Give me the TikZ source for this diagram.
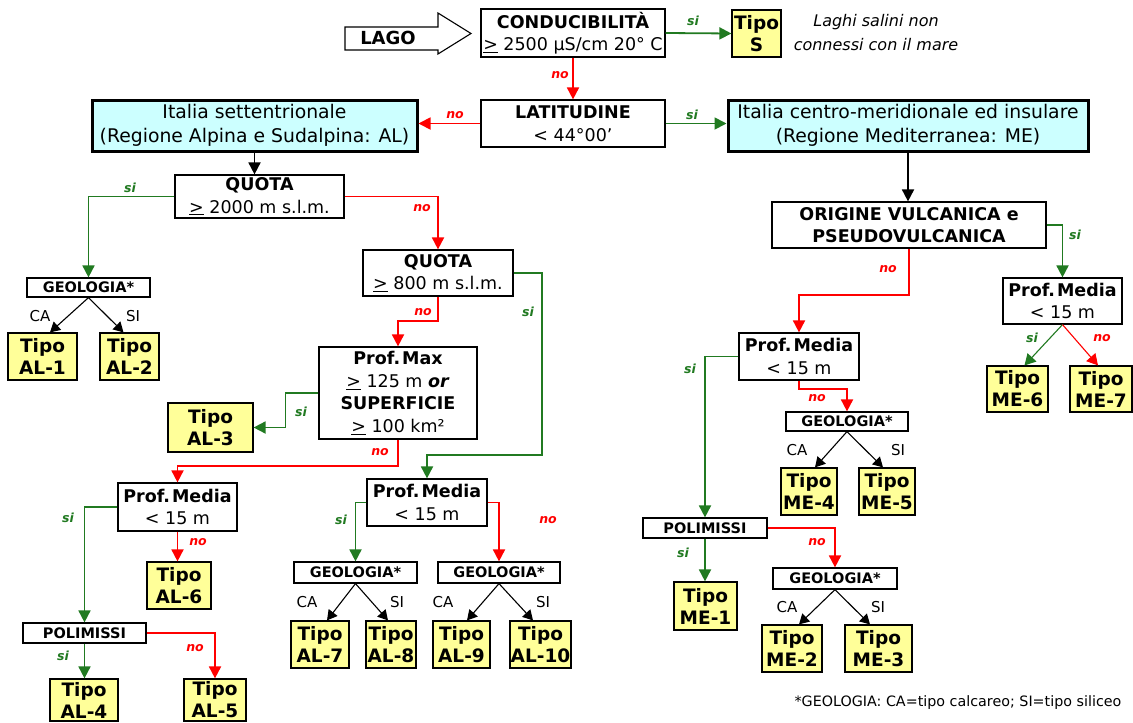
\documentclass[tikz,border=0pt]{standalone}
\usepackage{fontspec}
\setmainfont{DejaVu Sans}
\usetikzlibrary{arrows.meta,calc}
\definecolor{gr}{HTML}{217A21}
\definecolor{rd}{HTML}{FF0000}
\definecolor{yel}{HTML}{FFFF99}
\definecolor{cya}{HTML}{CCFFFF}
\begin{document}
\begin{tikzpicture}[x=1pt,y=-1pt,
  box/.style={draw=black, line width=1.2pt, fill=white, inner sep=0pt, align=center, font=\fontsize{17.5}{22.5}\selectfont},
  tipo/.style={box, fill=yel, font=\fontsize{18.5}{22}\selectfont\bfseries},
  regbox/.style={box, fill=cya, line width=3pt, font=\fontsize{18.8}{24}\selectfont},
  smallbox/.style={box, font=\fontsize{14.5}{16}\selectfont\bfseries},
  garr/.style={draw=gr, line width=1.8pt, -{Triangle[length=12pt,width=12pt]}},
  rarr/.style={draw=rd, line width=1.8pt, -{Triangle[length=12pt,width=12pt]}},
  barr/.style={draw=black, line width=1.8pt, -{Triangle[length=12pt,width=12pt]}},
  dbarr/.style={draw=black, line width=1.1pt, -{Triangle[length=10pt,width=11pt]}},
  dgarr/.style={draw=gr, line width=1.1pt, -{Triangle[length=11pt,width=12pt]}},
  drarr/.style={draw=rd, line width=1.1pt, -{Triangle[length=11pt,width=12pt]}},
  silab/.style={text=gr, inner sep=0pt, font=\fontsize{12.5}{12.5}\selectfont\bfseries\itshape},
  nolab/.style={text=rd, inner sep=0pt, font=\fontsize{12.5}{12.5}\selectfont\bfseries\itshape},
  geolab/.style={inner sep=0pt, font=\fontsize{15}{15}\selectfont},
]
\fill[white] (0,0) rectangle (1133,723);
\useasboundingbox (0,0) rectangle (1133,723);

% LAGO block arrow
\draw[line width=1.1pt, fill=white] (345,27) -- (438,27) -- (438,13) -- (471,33.5) -- (438,54) -- (438,50) -- (345,50) -- cycle;
\node[inner sep=0pt, font=\fontsize{18}{18}\selectfont\bfseries] (lago) at (388,38) {LAGO};

% top row
\node[box, minimum width=184, minimum height=48] (cond) at (573,33) {\textbf{CONDUCIBILITÀ}\\\underline{>} 2500 µS/cm 20° C};
\node[tipo, minimum width=49, minimum height=47] (tipoS) at (756.5,33.5) {Tipo\\S};
\node[inner sep=0pt, align=center, font=\fontsize{16}{24}\selectfont\itshape] (note) at (876,33) {Laghi salini non\\connessi con il mare};
\node[box, minimum width=184, minimum height=47] (lat) at (573,123.5) {\textbf{LATITUDINE}\\< 44°00’};
\node[regbox, minimum width=325, minimum height=51] (nord) at (254.5,125.5) {Italia settentrionale\\(Regione Alpina e Sudalpina: AL)};
\node[regbox, minimum width=360, minimum height=51] (sud) at (908,125.5) {Italia centro-meridionale ed insulare\\(Regione Mediterranea: ME)};

% left branch
\node[box, minimum width=169, minimum height=43] (q2000) at (259.5,196.5) {\textbf{QUOTA}\\\underline{>} 2000 m s.l.m.};
\node[smallbox, minimum width=123, minimum height=19] (geo1) at (88.5,287.5) {GEOLOGIA*};
\node[tipo, minimum width=69, minimum height=47] (al1) at (42.5,356.5) {Tipo\\AL-1};
\node[tipo, minimum width=59, minimum height=47] (al2) at (129.5,356.5) {Tipo\\AL-2};
\node[box, minimum width=150, minimum height=46] (q800) at (438,273) {\textbf{QUOTA}\\\underline{>} 800 m s.l.m.};
\node[box, minimum width=158, minimum height=92] (pmax) at (398,393) {\textbf{Prof.\kern2pt Max}\\\underline{>} 125 m \textbf{\textit{or}}\\\textbf{SUPERFICIE}\\\underline{>} 100 km²};
\node[tipo, minimum width=85, minimum height=49] (al3) at (210.5,427.5) {Tipo\\AL-3};
\node[box, minimum width=119, minimum height=48] (pm1) at (177.5,507) {\textbf{Prof.\kern2pt Media}\\< 15 m};
\node[tipo, minimum width=64, minimum height=47] (al6) at (179,585.5) {Tipo\\AL-6};
\node[smallbox, minimum width=123, minimum height=20] (poli1) at (84.5,633) {POLIMISSI};
\node[tipo, minimum width=68, minimum height=42] (al4) at (84,700) {Tipo\\AL-4};
\node[tipo, minimum width=62, minimum height=42] (al5) at (215,700) {Tipo\\AL-5};
\node[box, minimum width=120, minimum height=47] (pm2) at (427,502.5) {\textbf{Prof.\kern2pt Media}\\< 15 m};
\node[smallbox, minimum width=123, minimum height=21] (geo2) at (355.5,572.5) {GEOLOGIA*};
\node[smallbox, minimum width=122, minimum height=21] (geo3) at (499,572.5) {GEOLOGIA*};
\node[tipo, minimum width=58, minimum height=47] (al7) at (320,644.5) {Tipo\\AL-7};
\node[tipo, minimum width=50, minimum height=47] (al8) at (391,644.5) {Tipo\\AL-8};
\node[tipo, minimum width=57, minimum height=47] (al9) at (461.5,644.5) {Tipo\\AL-9};
\node[tipo, minimum width=61, minimum height=47] (al10) at (540.5,644.5) {Tipo\\AL-10};

% right branch
\node[box, minimum width=274, minimum height=46] (orig) at (909,225) {\textbf{ORIGINE VULCANICA e}\\\textbf{PSEUDOVULCANICA}};
\node[box, minimum width=119, minimum height=46] (pm3) at (1062.5,301) {\textbf{Prof.\kern2pt Media}\\< 15 m};
\node[tipo, minimum width=61, minimum height=46] (me6) at (1017.5,389) {Tipo\\ME-6};
\node[tipo, minimum width=62, minimum height=46] (me7) at (1101,389) {Tipo\\ME-7};
\node[box, minimum width=120, minimum height=47] (pm4) at (799,356.5) {\textbf{Prof.\kern2pt Media}\\< 15 m};
\node[smallbox, minimum width=122, minimum height=19] (geo4) at (847,421.5) {GEOLOGIA*};
\node[tipo, minimum width=56, minimum height=47] (me4) at (809,491.5) {Tipo\\ME-4};
\node[tipo, minimum width=56, minimum height=47] (me5) at (887,491.5) {Tipo\\ME-5};
\node[smallbox, minimum width=124, minimum height=20] (poli2) at (705,528) {POLIMISSI};
\node[tipo, minimum width=63, minimum height=48] (me1) at (705.5,606) {Tipo\\ME-1};
\node[smallbox, minimum width=124, minimum height=21] (geo5) at (835,578.5) {GEOLOGIA*};
\node[tipo, minimum width=60, minimum height=47] (me2) at (792,648.5) {Tipo\\ME-2};
\node[tipo, minimum width=67, minimum height=47] (me3) at (878.5,648.5) {Tipo\\ME-3};

\node[inner sep=0pt, font=\fontsize{14.3}{14.3}\selectfont] (foot) at (958,703) {*GEOLOGIA: CA=tipo calcareo; SI=tipo siliceo};

% connectors top
\draw[garr] (cond.east) -- (tipoS.west);
\draw[rarr] (cond.south) -- (lat.north);
\draw[rarr] (lat.west) -- (lat.west -| nord.east);
\draw[garr] (lat.east) -- (lat.east -| sud.west);
\draw[barr] (nord.south) -- (nord.south |- q2000.north);
\draw[barr] (sud.south) -- (sud.south |- orig.north);

% connectors left
\draw[garr] (q2000.west) -| (geo1.north);
\draw[rarr] (q2000.east) -| (q800.north);
\draw[dbarr] (geo1.south) -- ($(al1.north)+(7.5,0)$);
\draw[dbarr] (geo1.south) -- ($(al2.north)+(-6,0)$);
\draw[rarr] (q800.south) -- ++(0,24) -| (pmax.north);
\draw[garr] (q800.east) -- ++(28,0) -- ++(0,182) -| (pm2.north);
\draw[garr] (pmax.west) -- ++(-33,0) |- (al3.east);
\draw[rarr] (pmax.south) -- ++(0,26) -| (pm1.north);
\draw[rarr] (pm1.south) -- (pm1.south |- al6.north);
\draw[garr] (pm1.west) -| (poli1.north);
\draw[garr] (poli1.south) -- (poli1.south |- al4.north);
\draw[rarr] (poli1.east) -| (al5.north);
\draw[garr] (pm2.west) -| (geo2.north);
\draw[rarr] (pm2.east) -| (geo3.north);
\draw[dbarr] (geo2.south) -- ($(al7.north)+(7,0)$);
\draw[dbarr] (geo2.south) -- ($(al8.north)+(-3,0)$);
\draw[dbarr] (geo3.south) -- ($(al9.north)+(5.5,0)$);
\draw[dbarr] (geo3.south) -- ($(al10.north)+(-7.5,0)$);

% connectors right
\draw[garr] (orig.east) -| (pm3.north);
\draw[rarr] (orig.south) -- ++(0,46) -| (pm4.north);
\draw[dgarr] (pm3.south) -- ($(me6.north)+(7,0)$);
\draw[drarr] (pm3.south) -- ($(me7.north)+(-3,0)$);
\draw[rarr] (pm4.south) -- ++(0,8) -| (geo4.north);
\draw[garr] (pm4.west) -| (poli2.north);
\draw[dbarr] (geo4.south) -- ($(me4.north)+(6,0)$);
\draw[dbarr] (geo4.south) -- ($(me5.north)+(-4,0)$);
\draw[garr] (poli2.south) -- (poli2.south |- me1.north);
\draw[rarr] (poli2.east) -| (geo5.north);
\draw[dbarr] (geo5.south) -- ($(me2.north)+(7,0)$);
\draw[dbarr] (geo5.south) -- ($(me3.north)+(-8.5,0)$);

% labels
\node[silab] (s1) at (693,21) {si};
\node[nolab] (n1) at (560,75) {no};
\node[nolab] (n2) at (455,115) {no};
\node[silab] (s2) at (692,115) {si};
\node[silab] (s3) at (130,188) {si};
\node[nolab] (n3) at (422,208) {no};
\node[nolab] (n4) at (423,312) {no};
\node[silab] (s4) at (528,312) {si};
\node[silab] (s5) at (301,412) {si};
\node[nolab] (n5) at (380,452) {no};
\node[silab] (s6) at (68,518) {si};
\node[nolab] (n6) at (198,542) {no};
\node[silab] (s7) at (63,656) {si};
\node[nolab] (n7) at (195,648) {no};
\node[silab] (s8) at (341,520) {si};
\node[nolab] (n8) at (548,520) {no};
\node[nolab] (n9) at (888,269) {no};
\node[silab] (s9) at (1075,235) {si};
\node[silab] (s10) at (1032,338) {si};
\node[nolab] (n10) at (1102,338) {no};
\node[silab] (s11) at (690,369) {si};
\node[nolab] (n11) at (817,398) {no};
\node[silab] (s12) at (683,553) {si};
\node[nolab] (n12) at (817,542) {no};

\node[geolab] (ca1) at (40,316) {CA};
\node[geolab] (si1) at (133,316) {SI};
\node[geolab] (ca2) at (307,602) {CA};
\node[geolab] (si2) at (397,602) {SI};
\node[geolab] (ca3) at (443,602) {CA};
\node[geolab] (si3) at (543,602) {SI};
\node[geolab] (ca4) at (797,450) {CA};
\node[geolab] (si4) at (898,450) {SI};
\node[geolab] (ca5) at (787,607) {CA};
\node[geolab] (si5) at (878,607) {SI};
\end{tikzpicture}
\end{document}
